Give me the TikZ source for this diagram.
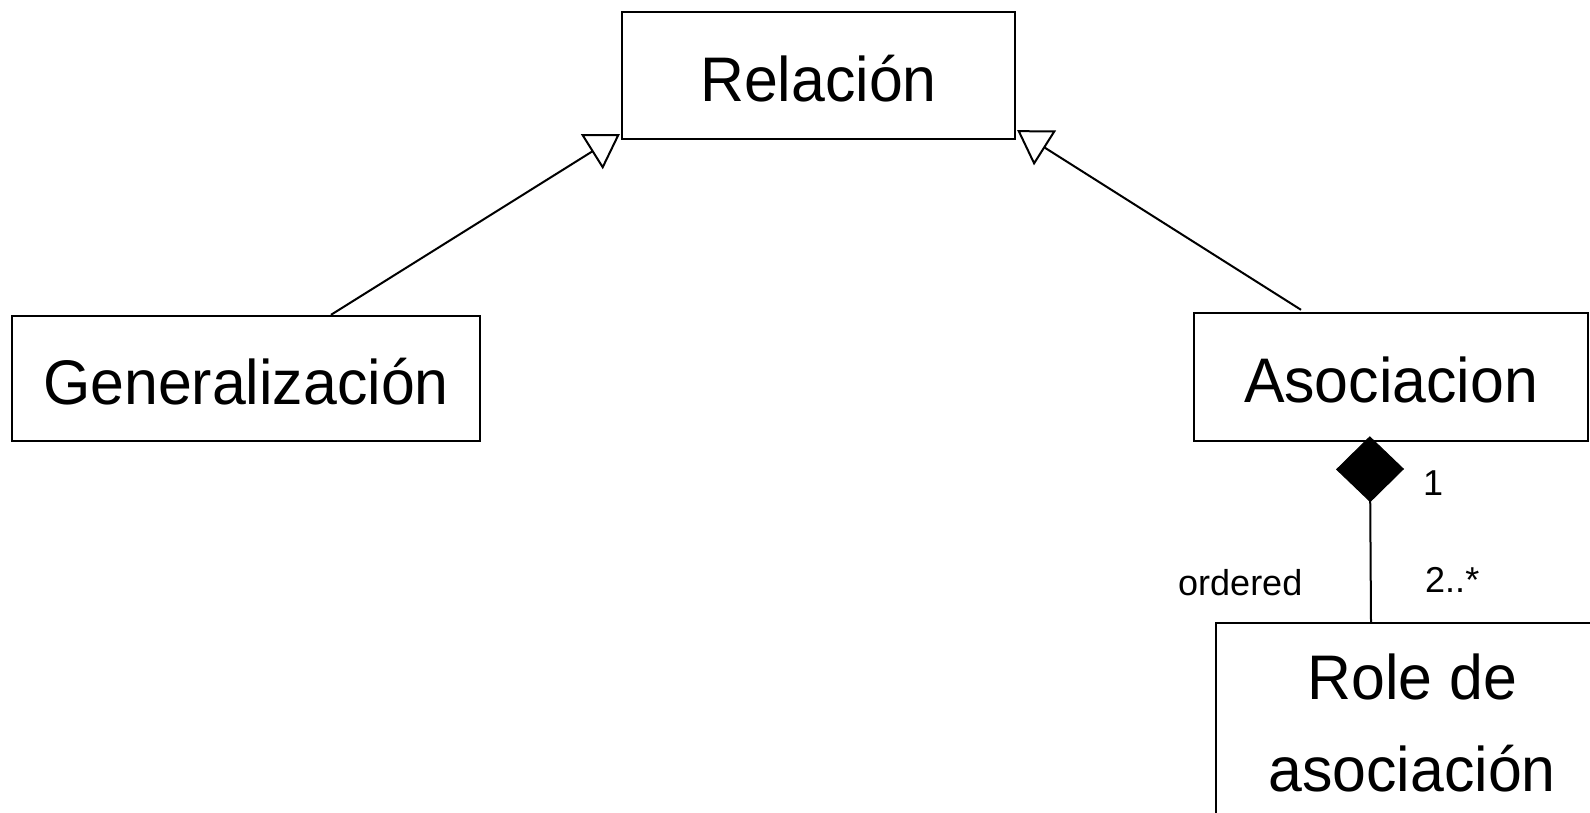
\documentclass[tikz,border=0pt]{standalone}
\usepackage{fontspec}
\setmainfont{Liberation Sans}
\newfontfamily\bigfont{Liberation Sans}[FakeStretch=0.965]
\usetikzlibrary{arrows.meta,calc}
\begin{document}
\begin{tikzpicture}[x=1pt,y=-1pt,
  classbox/.style={draw=black, line width=2.4pt, inner sep=0pt,
    font=\bigfont\fontsize{63pt}{92pt}\selectfont, text height=88pt, text depth=37pt},
  gen/.style={line width=2pt, -{Triangle[open, length=33pt, width=41pt, line width=2pt]}},
  comp/.style={line width=2pt, -{Diamond[length=66pt, width=68pt, line width=1pt, fill=black]}},
  mult/.style={inner sep=0pt, anchor=base west, font=\fontsize{36pt}{43pt}\selectfont}]
\useasboundingbox (0,0) rectangle (1590,812);
\node[classbox, minimum width=393pt, minimum height=127pt] (rel) at (818.5,75.5) {Relación};
\node[classbox, minimum width=468pt, minimum height=123pt] (gz) at (246,378.5) {Generalización};
\node[classbox, minimum width=394pt, minimum height=128pt] (aso) at (1391,377) {Asociacion};
\node[draw=black, line width=2.4pt, inner sep=0pt, align=center,
  font=\bigfont\fontsize{63pt}{92pt}\selectfont,
  minimum width=392pt, minimum height=199pt, anchor=north west] (role) at (1215,622) {Role de\\asociación};
\draw[gen] ($(gz.north)+(85,0)$) -- ($(rel.south west)+(-1,-6)$);
\draw[gen] ($(aso.north)+(-90,-2)$) -- ($(rel.south east)+(1,-10)$);
\draw[comp] ($(role.north west)+(156,0)$) -- ($(aso.south west)+(177,-6)$);
\node[mult] (m1) at (1423,495) {1};
\node[mult] (m2) at (1425,592) {2..*};
\node[mult] (ord) at (1178,595) {ordered};
\end{tikzpicture}
\end{document}
